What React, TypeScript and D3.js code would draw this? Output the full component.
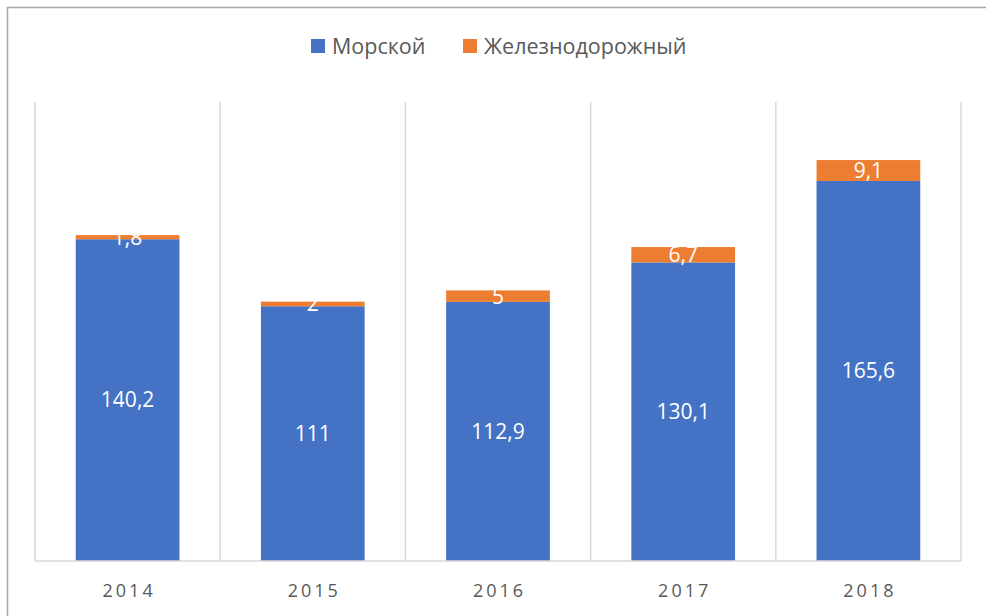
import React, { useEffect, useRef } from "react";
import * as d3 from "d3";

const years = ["2014", "2015", "2016", "2017", "2018"];
const morskoy = [140.2, 111, 112.9, 130.1, 165.6];
const zhd = [1.8, 2, 5, 6.7, 9.1];
const seriesNames = ["Морской", "Железнодорожный"];
const seriesColors = ["#4472C4", "#ED7D31"];
const yMax = 200;

export default function App() {
  const ref = useRef<SVGSVGElement>(null);

  useEffect(() => {
    const width = 986;
    const height = 616;
    const left = 35;
    const right = 961;
    const top = 102;
    const bottom = 561;
    const font = "'Open Sans', 'DejaVu Sans', sans-serif";

    const svg = d3.select(ref.current);
    svg.selectAll("*").remove();
    svg.attr("width", width).attr("height", height);

    svg.append("rect").attr("width", width).attr("height", height).attr("fill", "#fff");

    // chart border (only top and left visible in the crop)
    svg
      .append("path")
      .attr("d", `M7.5,${height} L7.5,7.5 L${width},7.5`)
      .attr("fill", "none")
      .attr("stroke", "#a6a6a6")
      .attr("stroke-width", 1.5);

    const x = d3.scaleBand().domain(years).range([left, right]).paddingInner(0).paddingOuter(0);
    const y = d3.scaleLinear().domain([0, yMax]).range([bottom, top]);

    // vertical gridlines at category boundaries
    const bounds = years.map((d) => x(d) as number).concat([right]);
    svg
      .append("g")
      .selectAll("line")
      .data(bounds)
      .enter()
      .append("line")
      .attr("x1", (d) => d)
      .attr("x2", (d) => d)
      .attr("y1", top)
      .attr("y2", bottom)
      .attr("stroke", "#d9d9d9")
      .attr("stroke-width", 1.5);

    // stacked data
    const rows = years.map((yr, i) => ({ year: yr, a: morskoy[i], b: zhd[i] }));
    const stack = d3.stack<any>().keys(["a", "b"])(rows);

    const bw = x.bandwidth() * 0.56;
    const off = (x.bandwidth() - bw) / 2;

    stack.forEach((layer, li) => {
      const g = svg.append("g");
      g.selectAll("rect")
        .data(layer)
        .enter()
        .append("rect")
        .attr("x", (d: any) => (x(d.data.year) as number) + off)
        .attr("y", (d) => y(d[1]))
        .attr("width", bw)
        .attr("height", (d) => y(d[0]) - y(d[1]))
        .attr("fill", seriesColors[li]);

      g.selectAll("text")
        .data(layer)
        .enter()
        .append("text")
        .attr("x", (d: any) => (x(d.data.year) as number) + x.bandwidth() / 2)
        .attr("y", (d) => (y(d[0]) + y(d[1])) / 2)
        .attr("dy", "0.35em")
        .attr("text-anchor", "middle")
        .attr("fill", "#fff")
        .style("font-family", font)
        .style("font-size", "21px")
        .text((d: any) => String(+(d[1] - d[0]).toFixed(1)).replace(".", ","));
    });

    // bottom axis line
    svg
      .append("line")
      .attr("x1", left)
      .attr("x2", right)
      .attr("y1", bottom)
      .attr("y2", bottom)
      .attr("stroke", "#d9d9d9")
      .attr("stroke-width", 1.5);

    svg
      .append("g")
      .selectAll("text")
      .data(years)
      .enter()
      .append("text")
      .attr("x", (d) => (x(d) as number) + x.bandwidth() / 2 + 1.5)
      .attr("y", 591)
      .attr("dy", "0.35em")
      .attr("text-anchor", "middle")
      .attr("fill", "#595959")
      .style("font-family", font)
      .style("font-size", "18px")
      .style("letter-spacing", "3px")
      .text((d) => d);

    // legend
    const legendX = [311, 463];
    seriesNames.forEach((name, i) => {
      const lg = svg.append("g").attr("transform", `translate(${legendX[i]},39)`);
      lg.append("rect").attr("width", 14).attr("height", 14).attr("fill", seriesColors[i]);
      lg.append("text")
        .attr("x", 21)
        .attr("y", 7)
        .attr("dy", "0.35em")
        .attr("fill", "#595959")
        .style("font-family", font)
        .style("font-size", "21.5px")
        .text(name);
    });
  }, []);

  return <svg ref={ref} style={{ position: "absolute", left: 0, top: 0 }}></svg>;
}
